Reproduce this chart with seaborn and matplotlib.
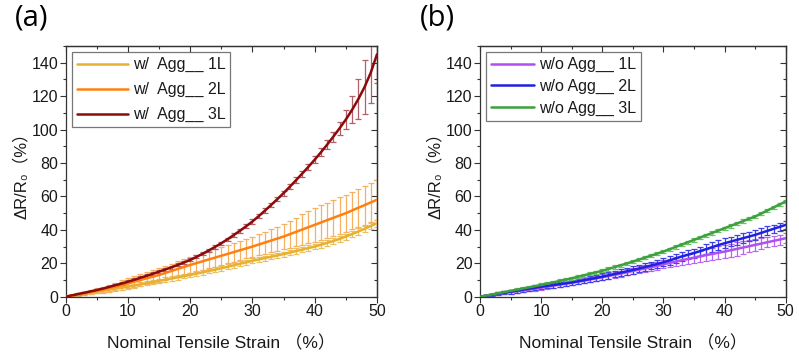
import numpy as np
import pandas as pd
import matplotlib
matplotlib.use("Agg")
import matplotlib.pyplot as plt
import seaborn as sns
from matplotlib.ticker import MultipleLocator

# ---------------- data ----------------
strain = list(range(0, 51))

# panel (a): with Agg
a_1L = [0, 0.6, 1.2, 1.8, 2.4, 3.0, 3.6, 4.2, 4.8, 5.4,
        6.0, 6.7, 7.4, 8.1, 8.8, 9.5, 10.2, 10.9, 11.6, 12.3,
        13.0, 13.8, 14.6, 15.4, 16.2, 17.0, 17.9, 18.8, 19.7, 20.6,
        21.5, 22.3, 23.1, 23.9, 24.7, 25.5, 26.4, 27.3, 28.2, 29.1,
        30.0, 31.1, 32.2, 33.3, 34.6, 36.0, 37.5, 39.0, 40.6, 42.3, 44.0]
a_1L_err = [0, 0.3, 0.5, 0.6, 0.7, 0.8, 0.9, 1.0, 1.0, 1.1,
            1.1, 1.2, 1.2, 1.2, 1.3, 1.3, 1.3, 1.3, 1.4, 1.4,
            1.4, 1.4, 1.4, 1.4, 1.5, 1.5, 1.5, 1.5, 1.5, 1.5,
            1.5, 1.5, 1.5, 1.5, 1.5, 1.5, 1.6, 1.6, 1.6, 1.6,
            1.6, 1.7, 1.7, 1.7, 1.8, 1.8, 1.9, 1.9, 2.0, 2.0, 2.0]
a_2L = [0, 0.7, 1.4, 2.1, 2.8, 3.5, 4.3, 5.2, 6.1, 7.0,
        8.0, 9.0, 10.0, 11.0, 12.0, 13.0, 14.2, 15.4, 16.6, 17.8,
        19.0, 20.1, 21.2, 22.3, 23.4, 24.5, 25.6, 26.7, 27.8, 28.9,
        30.0, 31.2, 32.4, 33.6, 34.8, 36.0, 37.4, 38.8, 40.2, 41.6,
        43.0, 44.4, 45.8, 47.2, 48.6, 50.0, 51.6, 53.2, 54.8, 56.4, 58.0]
a_2L_err = [0, 0.3, 0.6, 0.9, 1.2, 1.5, 1.8, 2.1, 2.4, 2.7,
            3.0, 3.2, 3.4, 3.6, 3.8, 4.0, 4.2, 4.4, 4.6, 4.8,
            5.0, 5.1, 5.2, 5.3, 5.4, 5.5, 5.6, 5.7, 5.8, 5.9,
            6.0, 6.3, 6.6, 6.9, 7.2, 7.5, 8.0, 8.5, 9.0, 9.5,
            10.0, 10.2, 10.4, 10.6, 10.8, 11.0, 11.2, 11.4, 11.6, 11.8, 12.0]
a_3L = [0, 0.8, 1.6, 2.4, 3.2, 4.0, 4.9, 5.9, 6.9, 7.9,
        9.0, 10.1, 11.3, 12.5, 13.7, 15.0, 16.3, 17.6, 19.0, 20.5,
        22.0, 23.8, 25.7, 27.7, 29.8, 32.0, 34.4, 36.9, 39.5, 42.2,
        45.0, 48.2, 51.5, 54.9, 58.4, 62.0, 65.8, 69.7, 73.7, 77.8,
        82.0, 86.4, 91.0, 95.8, 100.8, 106.0, 111.8, 118.2, 125.4, 134.0, 145.0]
a_3L_err = [0, 0.3, 0.4, 0.5, 0.5, 0.6, 0.6, 0.7, 0.7, 0.7,
            0.8, 0.8, 0.8, 0.8, 0.8, 0.8, 0.8, 0.8, 0.9, 0.9,
            0.9, 0.9, 0.9, 1.0, 1.0, 1.0, 1.0, 1.1, 1.1, 1.2,
            1.2, 1.3, 1.3, 1.4, 1.4, 1.5, 1.6, 1.7, 1.8, 1.9,
            2.0, 2.3, 2.6, 3.0, 4.0, 5.5, 8.0, 12.0, 16.0, 18.0, 17.0]

# panel (b): without Agg
b_1L = [0, 0.6, 1.2, 1.8, 2.3, 2.8, 3.3, 3.8, 4.3, 4.8,
        5.4, 6.0, 6.6, 7.2, 7.8, 8.4, 9.0, 9.6, 10.3, 11.0,
        11.7, 12.4, 13.1, 13.8, 14.6, 15.4, 16.2, 16.9, 17.7, 18.5,
        19.4, 20.2, 21.0, 21.8, 22.6, 23.4, 24.2, 24.9, 25.6, 26.3,
        27.0, 27.8, 28.6, 29.4, 30.2, 31.0, 31.8, 32.6, 33.4, 34.2, 35.0]
b_1L_err = [0, 0.4, 0.6, 0.8, 0.9, 1.0, 1.0, 1.1, 1.1, 1.2,
            1.2, 1.3, 1.3, 1.4, 1.4, 1.5, 1.5, 1.5, 1.6, 1.6,
            1.6, 1.7, 1.7, 1.8, 1.8, 1.9, 2.0, 2.1, 2.2, 2.3,
            2.4, 2.5, 2.6, 2.8, 3.0, 3.2, 3.4, 3.6, 3.8, 4.0,
            4.0, 4.0, 4.0, 3.8, 3.6, 3.4, 3.2, 3.0, 3.0, 3.0, 3.0]
b_2L = [0, 0.6, 1.2, 1.8, 2.4, 3.0, 3.6, 4.2, 4.8, 5.4,
        6.0, 6.5, 7.0, 7.5, 8.0, 8.5, 9.2, 9.9, 10.6, 11.3,
        12.0, 12.8, 13.6, 14.4, 15.2, 16.0, 16.9, 17.8, 18.7, 19.6,
        20.6, 21.7, 22.9, 24.1, 25.1, 26.1, 27.3, 28.5, 29.7, 30.9,
        32.0, 33.0, 34.0, 35.0, 36.0, 37.0, 38.2, 39.4, 40.6, 41.8, 43.0]
b_2L_err = [0, 0.5, 0.7, 0.9, 1.0, 1.1, 1.2, 1.3, 1.3, 1.4,
            1.4, 1.5, 1.5, 1.6, 1.6, 1.7, 1.7, 1.8, 1.8, 1.9,
            1.9, 2.0, 2.0, 2.1, 2.1, 2.2, 2.2, 2.3, 2.3, 2.4,
            2.4, 2.5, 2.5, 2.6, 2.6, 2.7, 2.7, 2.8, 2.8, 2.8,
            2.9, 2.9, 2.9, 2.9, 2.8, 2.8, 2.7, 2.7, 2.6, 2.5, 2.5]
b_3L = [0, 0.7, 1.4, 2.1, 2.8, 3.5, 4.2, 4.9, 5.6, 6.3,
        7.0, 7.8, 8.6, 9.4, 10.2, 11.0, 11.9, 12.8, 13.7, 14.6,
        15.5, 16.6, 17.7, 18.8, 19.9, 21.0, 22.2, 23.4, 24.6, 25.8,
        27.0, 28.4, 29.8, 31.2, 32.6, 34.0, 35.4, 36.8, 38.2, 39.6,
        41.0, 42.4, 43.8, 45.2, 46.6, 48.0, 49.8, 51.6, 53.4, 55.2, 57.0]
b_3L_err = [0, 0.3, 0.5, 0.6, 0.7, 0.8, 0.8, 0.9, 0.9, 0.9,
            1.0, 1.0, 1.0, 1.0, 1.0, 1.0, 1.0, 1.0, 1.0, 1.0,
            1.0, 1.0, 1.0, 1.0, 1.0, 1.0, 1.0, 1.0, 1.0, 1.0,
            1.0, 1.0, 1.0, 1.0, 1.0, 1.0, 1.0, 1.0, 1.0, 1.0,
            1.0, 1.0, 1.0, 1.0, 1.0, 1.0, 1.0, 1.0, 1.0, 1.0, 1.0]

labels_a = ["w/  Agg__ 1L", "w/  Agg__ 2L", "w/  Agg__ 3L"]
labels_b = ["w/o Agg__ 1L", "w/o Agg__ 2L", "w/o Agg__ 3L"]
colors_a = ["#E8B030", "#FF8010", "#8C0A0A"]
colors_b = ["#B050F0", "#2020E0", "#3CA03C"]
err_colors_a = ["#EBC060", "#F5B060", "#B06068"]
err_colors_b = ["#B868F0", "#4040E8", "#68C068"]

xticks = [0, 10, 20, 30, 40, 50]
yticks = [0, 20, 40, 60, 80, 100, 120, 140]

# ---------------- style ----------------
sns.set_theme(style="white")
plt.rcParams["font.family"] = ["Liberation Sans", "DejaVu Sans", "Noto Sans CJK SC"]

fig = plt.figure(figsize=(7.99, 3.58), dpi=100)
ax_a = fig.add_axes([0.0822, 0.1712, 0.3896, 0.7003])
ax_b = fig.add_axes([0.6008, 0.1712, 0.3826, 0.7003])

TEXT = "#1a1a1a"


def draw_panel(ax, series, errs, labels, colors, ecolors, tag,
               hlen, lspace, tagx):
    frames = []
    for vals, lab in zip(series, labels):
        frames.append(pd.DataFrame({"strain": strain, "dr": vals, "series": lab}))
    df = pd.concat(frames, ignore_index=True)
    for vals, err, ec in zip(series, errs, ecolors):
        ax.errorbar(strain, vals, yerr=err, fmt="none", ecolor=ec,
                    elinewidth=0.9, capsize=2.2, capthick=0.9, zorder=2)
    sns.lineplot(data=df, x="strain", y="dr", hue="series",
                 palette=dict(zip(labels, colors)), linewidth=1.8,
                 ax=ax, zorder=3, legend=False)
    handles = [plt.Line2D([], [], color=c, lw=1.8) for c in colors]
    leg = ax.legend(handles, labels, loc="upper left", fontsize=11.5,
                    frameon=True, fancybox=False, handlelength=hlen,
                    handletextpad=0.3, labelspacing=lspace,
                    borderpad=0.3, borderaxespad=0.4)
    leg.get_frame().set_edgecolor("#555555")
    leg.get_frame().set_linewidth(0.9)
    for t in leg.get_texts():
        t.set_color(TEXT)

    ax.set_xlim(0, 50)
    ax.set_ylim(0, 150)
    ax.set_xticks(xticks)
    ax.set_yticks(yticks)
    ax.xaxis.set_minor_locator(MultipleLocator(5))
    ax.yaxis.set_minor_locator(MultipleLocator(10))
    ax.tick_params(axis="both", which="major", direction="out", length=4,
                   width=0.8, labelsize=11.5, color="#333333", pad=1.5,
                   bottom=True, left=True, labelcolor=TEXT)
    ax.tick_params(axis="both", which="minor", direction="out", length=2.5,
                   width=0.8, color="#333333", bottom=True, left=True)
    for s in ax.spines.values():
        s.set_color("#333333")
        s.set_linewidth(0.9)

    # mirrored inward ticks on top and right
    top = ax.secondary_xaxis("top")
    top.set_xticks(xticks)
    top.xaxis.set_minor_locator(MultipleLocator(5))
    top.tick_params(which="major", direction="in", length=4, width=0.8,
                    labeltop=False, color="#333333")
    top.tick_params(which="minor", direction="in", length=2.5, width=0.8,
                    color="#333333")
    right = ax.secondary_yaxis("right")
    right.set_yticks(yticks)
    right.yaxis.set_minor_locator(MultipleLocator(10))
    right.tick_params(which="major", direction="in", length=4, width=0.8,
                      labelright=False, color="#333333")
    right.tick_params(which="minor", direction="in", length=2.5, width=0.8,
                      color="#333333")
    for sec in (top, right):
        for s in sec.spines.values():
            s.set_color("#333333")
            s.set_linewidth(0.9)

    ax.set_xlabel("Nominal Tensile Strain （%）", fontsize=12.5, labelpad=11,
                  color=TEXT)
    ax.set_ylabel("ΔR/R₀（%）", fontsize=12, labelpad=2, color=TEXT)
    fig.text(tagx, 0.99, tag, fontsize=21, ha="left", va="top",
             color="black", family=["Open Sans", "DejaVu Sans"])


draw_panel(ax_a, [a_1L, a_2L, a_3L], [a_1L_err, a_2L_err, a_3L_err],
           labels_a, colors_a, err_colors_a, "(a)", 3.2, 0.62, 15 / 799)
draw_panel(ax_b, [b_1L, b_2L, b_3L], [b_1L_err, b_2L_err, b_3L_err],
           labels_b, colors_b, err_colors_b, "(b)", 2.7, 0.42, 420 / 799)

fig.savefig("out.png", dpi=100, facecolor="white")
